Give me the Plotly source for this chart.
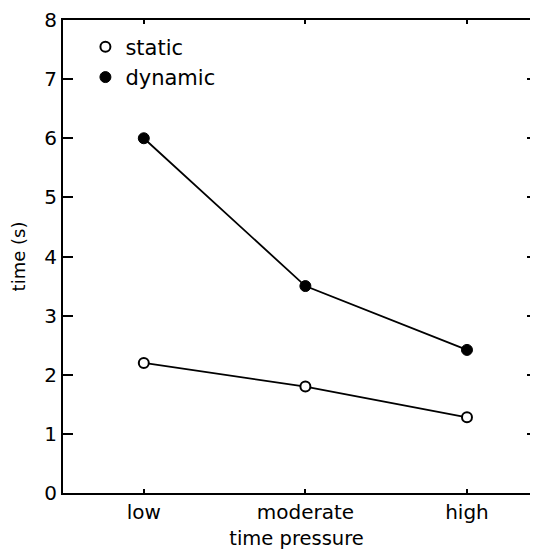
import plotly.graph_objects as go

categories = ["low", "moderate", "high"]
static_times = [2.2, 1.8, 1.28]
dynamic_times = [6.0, 3.5, 2.42]
y_ticks = [0, 1, 2, 3, 4, 5, 6, 7, 8]

FONT = "DejaVu Sans"
x_idx = list(range(len(categories)))

fig = go.Figure()
# connecting lines
fig.add_trace(go.Scatter(x=x_idx, y=static_times, mode="lines",
                         line=dict(color="black", width=1.8), showlegend=False, hoverinfo="skip"))
fig.add_trace(go.Scatter(x=x_idx, y=dynamic_times, mode="lines",
                         line=dict(color="black", width=1.8), showlegend=False, hoverinfo="skip"))
# markers
fig.add_trace(go.Scatter(x=x_idx, y=static_times, mode="markers", name="static",
                         marker=dict(symbol="circle", size=10, color="white",
                                     line=dict(color="black", width=2))))
fig.add_trace(go.Scatter(x=x_idx, y=dynamic_times, mode="markers", name="dynamic",
                         marker=dict(symbol="circle", size=11, color="black",
                                     line=dict(color="black", width=1))))
# invisible trace for the right-side tick marks
fig.add_trace(go.Scatter(x=[None], y=[None], yaxis="y2", showlegend=False, hoverinfo="skip"))

fig.update_layout(
    width=522, height=542,
    margin=dict(l=55, r=0, t=12, b=57, autoexpand=False),
    plot_bgcolor="white", paper_bgcolor="white",
    font=dict(family=FONT, size=20, color="black"),
    xaxis=dict(
        range=[-0.5, 2.39],
        tickmode="array", tickvals=x_idx, ticktext=categories,
        showline=True, linecolor="black", linewidth=2, mirror="ticks",
        ticks="inside", ticklen=4, tickwidth=1.5, tickcolor="black",
        showgrid=False, zeroline=False, automargin=False,
        tickfont=dict(family=FONT, size=20),
        title=dict(text="time pressure", font=dict(family=FONT, size=19.5), standoff=8),
    ),
    yaxis=dict(
        range=[0, 8],
        tickmode="array", tickvals=y_ticks,
        showline=True, linecolor="black", linewidth=2,
        ticks="inside", ticklen=10, tickwidth=2, tickcolor="black",
        showgrid=False, zeroline=False, automargin=False,
        ticklabeloverflow="allow",
        tickfont=dict(family=FONT, size=20),
        title=dict(text="time (s)", font=dict(family=FONT, size=18), standoff=14),
    ),
    yaxis2=dict(
        range=[0, 8], overlaying="y", side="right",
        tickmode="array", tickvals=y_ticks[1:-1],
        showline=False, ticks="inside", ticklen=3, tickwidth=1.5, tickcolor="black",
        showticklabels=False, showgrid=False, zeroline=False, automargin=False,
    ),
    legend=dict(x=0.048, y=0.986, xanchor="left", yanchor="top",
                bgcolor="rgba(0,0,0,0)", font=dict(family=FONT, size=21),
                itemsizing="trace", tracegroupgap=0),
    showlegend=True,
)

fig.write_html("out.html")
